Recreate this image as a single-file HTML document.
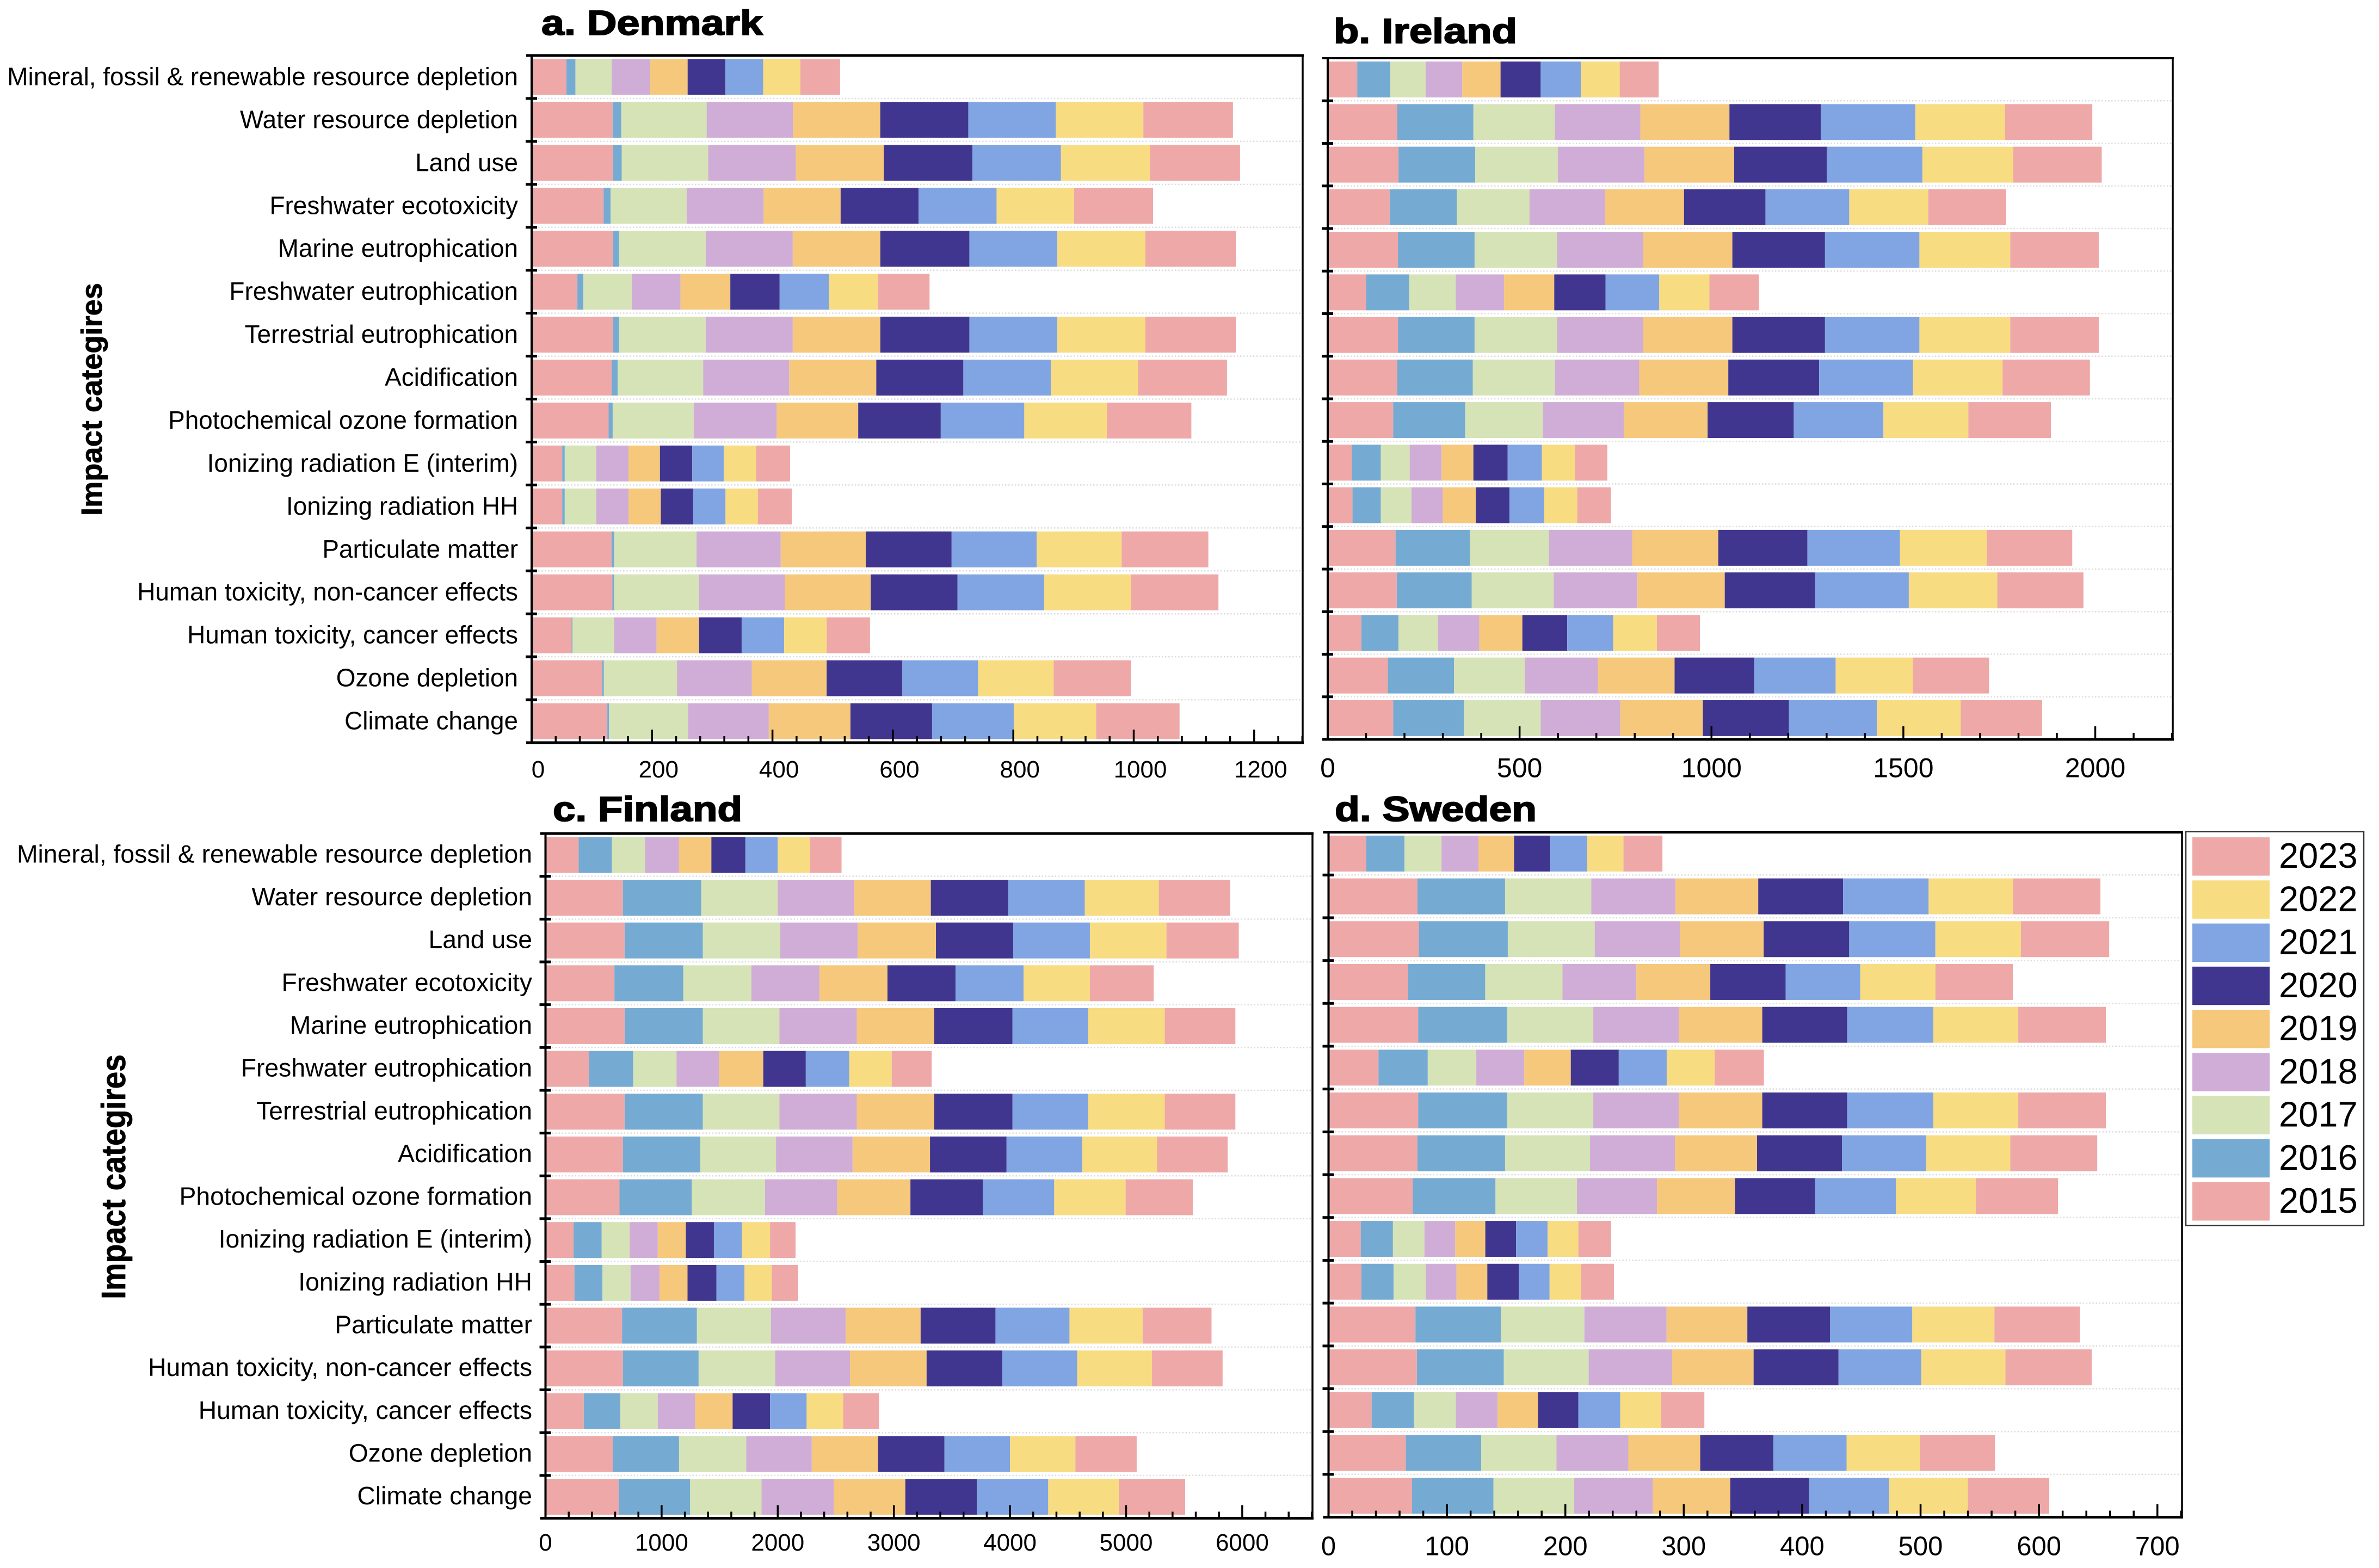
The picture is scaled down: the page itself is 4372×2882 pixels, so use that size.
<!DOCTYPE html>
<html lang="en">
<head>
<meta charset="utf-8">
<title>Impact categories by country, 2015-2023</title>
<style>
  html, body { margin: 0; padding: 0; background: #fff; }
  svg { display: block; }
  text { font-family: "Liberation Sans", Arial, sans-serif; fill: #000; }
</style>
</head>
<body>
<svg id="figure" xmlns="http://www.w3.org/2000/svg" width="4372" height="2882" viewBox="0 0 4372 2882"></svg>
<script>
const categories = [
  "Mineral, fossil & renewable resource depletion", "Water resource depletion", "Land use",
  "Freshwater ecotoxicity", "Marine eutrophication", "Freshwater eutrophication",
  "Terrestrial eutrophication", "Acidification", "Photochemical ozone formation",
  "Ionizing radiation E (interim)", "Ionizing radiation HH", "Particulate matter",
  "Human toxicity, non-cancer effects", "Human toxicity, cancer effects", "Ozone depletion", "Climate change"
];
const years = [2015, 2016, 2017, 2018, 2019, 2020, 2021, 2022, 2023];
const legendYears = [2023, 2022, 2021, 2020, 2019, 2018, 2017, 2016, 2015];
const denmarkTicks = [0, 200, 400, 600, 800, 1000, 1200];
const irelandTicks = [0, 500, 1000, 1500, 2000];
const finlandTicks = [0, 1000, 2000, 3000, 4000, 5000, 6000];
const swedenTicks = [0, 100, 200, 300, 400, 500, 600, 700];

/* each row: one impact category; each column: one year, 2015 to 2023 */
const denmarkValues = [
  [57.7,15,60.2,63.5,62.7,62.7,62.7,61.8,66],
  [134.5,14.2,142,143.7,144.6,146.2,145.4,145.4,148.8],
  [135.4,14.2,143.7,145.4,146.2,147.1,147.1,147.9,149.6],
  [119.5,11.7,126.2,127.9,127.9,129.5,129.5,128.7,131.2],
  [135.4,10,143.7,144.6,145.4,147.9,146.2,146.2,150.4],
  [76,10,80.2,81.1,82.7,81.9,81.9,81.9,85.2],
  [135.4,10,143.7,144.6,145.4,147.9,146.2,146.2,150.4],
  [132.9,10,142,142.9,144.6,144.6,145.4,144.6,147.9],
  [127.9,6.7,134.5,137.9,135.4,137.1,138.7,137.1,140.4],
  [50.8,4.2,52.2,53.7,52.2,53.7,52.2,53.7,56.5],
  [50.8,4.2,52.2,53.7,53.7,53.7,53.7,53.7,56.5],
  [132.7,4.2,137,139.8,141.2,142.6,141.2,141.2,144],
  [134.1,2.8,141.2,142.6,142.6,144,144,144,145.4],
  [66.4,1.4,69.2,70.6,70.6,70.6,70.6,70.6,72],
  [117.2,2.8,121.4,124.3,124.3,125.7,125.7,125.7,128.5],
  [125.7,2.8,131.3,134.1,135.6,135.6,135.6,137,138.4]
];
const irelandValues = [
  [76.9,86.1,92.2,95.3,99.9,104.5,104.5,101.5,101.5],
  [181.4,198.3,212.1,222.9,232.1,238.3,246,233.7,227.5],
  [184.5,199.8,215.2,226,233.7,241.4,249,236.7,230.6],
  [161.4,175.2,189.1,196.8,206,212.1,218.3,206,202.9],
  [182.9,199.8,215.2,224.4,232.1,241.4,246,236.7,230.6],
  [99.9,112.2,121.4,126.1,130.7,133.7,139.9,130.7,129.1],
  [182.9,199.8,215.2,224.4,232.1,241.4,246,236.7,230.6],
  [181.4,196.8,213.7,219.8,232.1,236.7,244.4,233.7,227.5],
  [170.6,187.5,202.9,210.6,218.3,224.4,233.7,221.4,215.2],
  [63,75.3,75.3,83,83,89.2,89.2,86.1,84.5],
  [64.6,73.8,79.9,81.5,86.1,87.6,90.7,86.1,87.6],
  [176.8,193.7,206,216.8,224.4,232.1,241.4,226,222.9],
  [179.9,195.2,213.7,218.3,227.5,235.2,244.4,230.6,224.4],
  [87.6,96.8,103,107.6,112.2,116.8,119.9,113.8,112.2],
  [156.8,172.2,184.5,190.6,199.8,207.5,212.1,201.4,198.3],
  [170.6,184.5,199.8,207.5,215.2,224.4,229.1,218.3,212.1]
];
const finlandValues = [
  [285.7,285.7,285.7,293,278.4,293,278.4,278.4,271],
  [666.6,673.9,659.3,659.3,659.3,666.6,659.3,637.3,615.3],
  [681.3,673.9,666.6,666.6,673.9,666.6,659.3,659.3,622.7],
  [593.4,593.4,586,586,586,586,586,571.4,549.4],
  [681.3,673.9,659.3,666.6,666.6,673.9,652,659.3,608],
  [373.6,380.9,373.6,366.3,380.9,366.3,373.6,366.3,344.3],
  [681.3,673.9,659.3,666.6,666.6,673.9,652,659.3,608],
  [666.6,666.6,652,659.3,666.6,659.3,652,644.6,608],
  [637.3,622.7,630,622.7,630,622.7,615.3,615.3,578.7],
  [241.7,241.7,241.7,241.7,241.7,241.7,241.7,241.7,219.8],
  [249,241.7,241.7,249,241.7,249,241.7,234.4,227],
  [659.3,644.6,637.3,644.6,644.6,644.6,637.3,630,593.4],
  [666.6,652,659.3,644.6,659.3,652,644.6,644.6,608],
  [329.6,315,322.3,322.3,322.3,322.3,315,315,307.7],
  [578.7,571.4,578.7,564,571.4,571.4,564,564,527.4],
  [630,615.3,615.3,622.7,615.3,615.3,615.3,608,571.4]
];
const swedenValues = [
  [31.8,32.4,31.2,31.2,30.1,30.6,31.2,30.6,32.9],
  [75.1,74,72.8,71.1,69.9,71.7,72.2,71.1,74],
  [76.3,75.1,73.4,72.2,70.5,72.2,72.8,72.2,74.6],
  [67,65.3,65.3,62.4,62.4,63.6,63,63.6,65.3],
  [75.7,75.1,72.8,72.2,70.5,71.7,72.8,71.7,74],
  [42.2,41.6,41,40.5,39.3,40.5,40.5,40.5,41.6],
  [75.7,75.1,72.8,72.2,70.5,71.7,72.8,71.7,74],
  [75.1,74,71.7,71.7,69.4,71.7,71.1,71.1,73.4],
  [71.1,69.9,68.8,67.6,65.9,67.6,68.2,67.6,69.4],
  [27.2,27.2,26.6,26,25.4,26,26.6,26,27.7],
  [27.7,27.2,27.2,26,26,26.6,26,26.6,27.7],
  [73.4,72.2,70.5,69.4,68.2,69.9,69.4,69.4,72.2],
  [74.6,73.4,71.7,70.5,68.8,71.7,69.9,71.1,72.8],
  [36.4,35.8,35.3,35.3,34.1,34.1,35.3,34.7,36.4],
  [65.3,63.6,63.6,60.7,60.7,61.8,61.8,61.8,63.6],
  [70.5,68.8,68.2,66.5,65.3,66.5,67.6,66.5,68.8]
];

const yearColors = {2015:"#EEA8A8",2016:"#75ABD3",2017:"#D5E3B6",2018:"#D0ADD6",2019:"#F6C87B",2020:"#41368F",2021:"#80A5E2",2022:"#F8DC82",2023:"#EEA8A8"};

const panels = [
  { key:"denmark", title:"a. Denmark", titleX:995, titleY:64, titleW:407, values:denmarkValues, ticks:denmarkTicks,
    left:977, right:2394, top:102, bottom:1365, domainMax:1280.6, tickFont:44, tickBase:1429, tickShift:12,
    labelRight:952, labelFont:45.9, labelDrop:15, topW:5, bottomW:5,
    axisTitle:"Impact categires", axisX:187, axisY1:948, axisLen:428, axisFont:54 },
  { key:"ireland", title:"b. Ireland", titleX:2451, titleY:79, titleW:337, values:irelandValues, ticks:irelandTicks,
    left:2440, right:3993, top:107, bottom:1359, domainMax:2202, tickFont:50, tickBase:1428.6, tickShift:0,
    labelRight:null, topW:4, bottomW:5 },
  { key:"finland", title:"c. Finland", titleX:1016, titleY:1509, titleW:348, values:finlandValues, ticks:finlandTicks,
    left:1002.5, right:2412, top:1532, bottom:2790.5, domainMax:6605, tickFont:44, tickBase:2850, tickShift:0,
    labelRight:978, labelFont:46.3, labelDrop:14, topW:5, bottomW:5,
    axisTitle:"Impact categires", axisX:230, axisY1:2388, axisLen:450, axisFont:62 },
  { key:"sweden", title:"d. Sweden", titleX:2453, titleY:1509, titleW:371, values:swedenValues, ticks:swedenTicks,
    left:2441.5, right:4010, top:1529.5, bottom:2788.6, domainMax:720.8, tickFont:49, tickBase:2858.7, tickShift:0,
    labelRight:null, topW:5, bottomW:5 }
];

const NS = "http://www.w3.org/2000/svg";
const root = document.getElementById("figure");

function make(tag, parent, props) {
  const el = document.createElementNS(NS, tag);
  for (const k in props) el.setAttribute(k, props[k]);
  parent.appendChild(el);
  return el;
}

function drawPanel(p) {
  const g = make("g", root, {});
  
  

  const xScale = v => p.left + (v / p.domainMax) * (p.right - p.left);
  const band = (p.bottom - p.top) / categories.length;
  const bandTop = i => p.top + band * i;
  const barH = 66;

  for (let i = 1; i < categories.length; i++) {
    const grid = make("line", g, { x1:p.left, x2:p.right, y1:bandTop(i), y2:bandTop(i), stroke:"#dcdcdc", "stroke-width":2.5, "stroke-dasharray":"2.5 3.5" });
    
    
  }

  p.values.forEach((row, i) => {
    let cum = 0;
    row.forEach((v, j) => {
      const bar = make("rect", g, {
        x: xScale(cum), y: bandTop(i) + (band - barH) / 2,
        width: xScale(cum + v) - xScale(cum), height: barH,
        fill: yearColors[years[j]]
      });
      
      
      cum += v;
    });
  });

  const frame = [
    ["spine-top", p.left - 10, p.top, p.right + 2, p.top, p.topW],
    ["spine-bottom", p.left - 10, p.bottom, p.right + 2, p.bottom, p.bottomW],
    ["spine-left", p.left, p.top, p.left, p.bottom, 4],
    ["spine-right", p.right, p.top, p.right, p.bottom, 3.5]
  ];
  frame.forEach(f => {
    const sp = make("line", g, { x1:f[1], y1:f[2], x2:f[3], y2:f[4], stroke:"#000", "stroke-width":f[5] });
    
    
  });

  for (let i = 1; i < categories.length; i++) {
    const t = make("line", g, { x1:p.left - 11, x2:p.left + 10, y1:bandTop(i), y2:bandTop(i), stroke:"#000", "stroke-width":5 });
    
    
  }

  const step = p.ticks[1] - p.ticks[0];
  const minor = step / 5;
  for (let k = 1; p.ticks[0] + k * minor < p.domainMax; k++) {
    const val = p.ticks[0] + k * minor;
    const isMajor = k % 5 === 0;
    const mt = make("line", g, { x1:xScale(val), x2:xScale(val), y1:p.bottom, y2:p.bottom - (isMajor ? 24 : 12), stroke:"#000", "stroke-width":3.5 });
    
    
  }

  p.ticks.forEach(v => {
    const lab = make("text", g, { x:xScale(v) + p.tickShift, y:p.tickBase, "font-size":p.tickFont, "text-anchor":"middle" });
    lab.textContent = String(v);
    
    
  });

  if (p.labelRight !== null) {
    categories.forEach((c, i) => {
      const lab = make("text", g, { x:p.labelRight, y:bandTop(i) + band / 2 + p.labelDrop, "font-size":p.labelFont, "text-anchor":"end" });
      lab.textContent = c;
      
      
    });
    const at = make("text", g, {
      transform:"translate(" + p.axisX + "," + p.axisY1 + ") rotate(-90)",
      "font-size":p.axisFont, "font-weight":"bold",
      textLength:p.axisLen, lengthAdjust:"spacingAndGlyphs",
      stroke:"#000", "stroke-width":0.8
    });
    at.textContent = p.axisTitle;
    
    
  }

  const title = make("text", g, {
    x:p.titleX, y:p.titleY, "font-size":64, "font-weight":"bold",
    textLength:p.titleW, lengthAdjust:"spacingAndGlyphs",
    stroke:"#000", "stroke-width":2
  });
  title.textContent = p.title;
  
  
}

panels.forEach(drawPanel);

/* legend */
const legend = make("g", root, {});


const legendBox = make("rect", legend, { x:4017, y:1528.5, width:327, height:724, fill:"#fff", stroke:"#333", "stroke-width":2.5 });


legendYears.forEach((yr, i) => {
  const rowTop = 1539 + i * 79.25;
  const sw = make("rect", legend, { x:4029, y:rowTop, width:142, height:70.5, fill:yearColors[yr] });
  
  
  const tx = make("text", legend, { x:4188, y:rowTop + 56, "font-size":65 });
  tx.textContent = String(yr);
  
  
});
</script>
</body>
</html>
